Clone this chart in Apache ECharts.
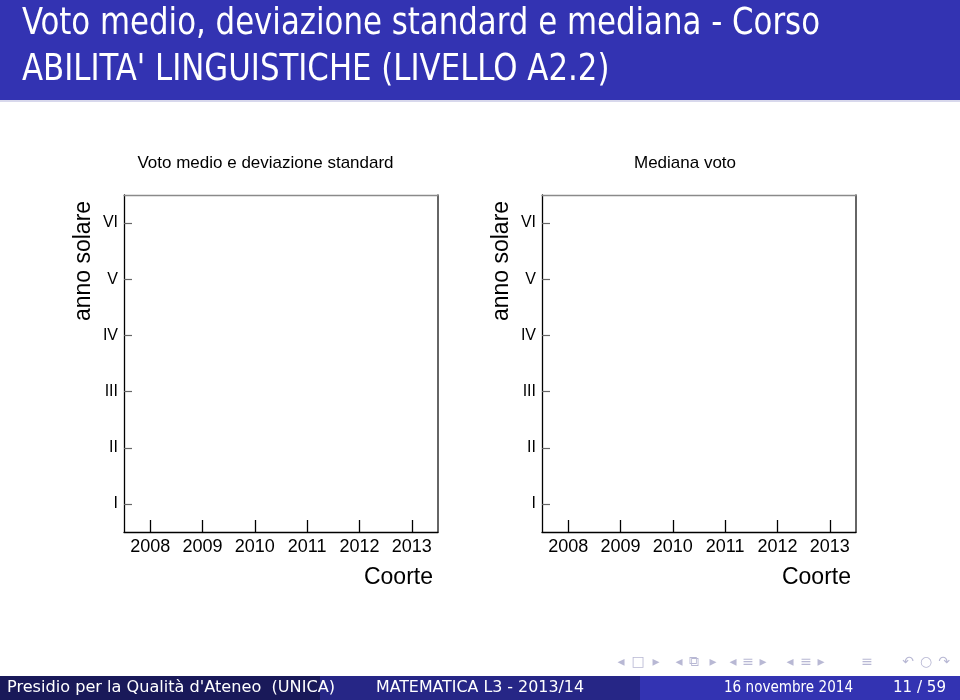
<!DOCTYPE html>
<html><head><meta charset="utf-8">
<script src="https://cdn.jsdelivr.net/npm/echarts@6/dist/echarts.min.js"></script>
<style>html,body{margin:0;padding:0;background:#fff}#c{width:960px;height:700px}</style>
</head><body><div id="c"></div>
<script>
// ---- data (the reference panels contain no plotted marks) ----
const cohorts = ['2008', '2009', '2010', '2011', '2012', '2013'];
const solarYears = ['I', 'II', 'III', 'IV', 'V', 'VI'];
const meanVotes = [];
const stdDevVotes = [];
const medianVotes = [];
const panelTitles = ['Voto medio e deviazione standard', 'Mediana voto'];
const xAxisName = 'Coorte';
const yAxisName = 'anno solare';
const slideTitle = ['Voto medio, deviazione standard e mediana - Corso', "ABILITA' LINGUISTICHE (LIVELLO A2.2)"];
const footerTexts = ["Presidio per la Qualità d'Ateneo  (UNICA)", 'MATEMATICA L3 - 2013/14', '16 novembre 2014', '11 / 59'];

const SANS = '"Liberation Sans", Arial, sans-serif';
const SLIDE = '"DejaVu Sans Condensed", "DejaVu Sans", sans-serif';
const mctx = document.createElement('canvas').getContext('2d');
function measure(t, size, fam) { mctx.font = size + 'px ' + fam; return mctx.measureText(t).width; }

const titleSize = 38;
const titleScale = 798 / measure(slideTitle[0], titleSize, SLIDE);
const footSize = 15;

const grids = [
  { left: 124, top: 195, width: 314, height: 337 },
  { left: 542, top: 195, width: 314, height: 337 }
];

const xAxes = [], yAxes = [], series = [], graphics = [];

// slide decoration
graphics.push({ type: 'rect', shape: { x: 0, y: 0, width: 960, height: 100 }, style: { fill: '#3333B2' }, z: 1 });
graphics.push({ type: 'rect', shape: { x: 0, y: 100, width: 960, height: 2 }, style: { fill: '#d8d8ec' }, z: 1 });
slideTitle.forEach((t, i) => {
  graphics.push({ type: 'text', x: 22, y: [24, 70][i], scaleX: titleScale, z: 2,
    style: { text: t, fill: '#fff', font: titleSize + 'px ' + SLIDE, textAlign: 'left', textVerticalAlign: 'middle' } });
});
const footBars = [[0, 320, '#191959'], [320, 320, '#262686'], [640, 320, '#3333B2']];
footBars.forEach(b => graphics.push({ type: 'rect', shape: { x: b[0], y: 676, width: b[1], height: 24 }, style: { fill: b[2] }, z: 1 }));
const footSpec = [[7, 328], [376, 208], [724, 129], [893, 53]];
footerTexts.forEach((t, i) => {
  const sc = footSpec[i][1] / measure(t, footSize, SLIDE);
  graphics.push({ type: 'text', x: footSpec[i][0], y: 688, scaleX: sc, z: 2,
    style: { text: t, fill: '#fff', font: footSize + 'px ' + SLIDE, textAlign: 'left', textVerticalAlign: 'middle' } });
});
const navSyms = [['◂', 621], ['□', 638], ['▸', 656], ['◂', 679], ['⧉', 694], ['▸', 713], ['◂', 733], ['≡', 748], ['▸', 763], ['◂', 790], ['≡', 806], ['▸', 821], ['≡', 867], ['↶', 908], ['○', 926], ['↷', 944]];
navSyms.forEach(s => graphics.push({ type: 'text', x: s[1], y: 662, z: 2,
  style: { text: s[0], fill: '#b8b8d4', font: '14px "DejaVu Sans", sans-serif', textAlign: 'center', textVerticalAlign: 'middle' } }));

grids.forEach((g, i) => {
  xAxes.push({
    type: 'category', gridIndex: i, data: cohorts, boundaryGap: true,
    axisLine: { show: true, lineStyle: { color: '#000', width: 1.3 } },
    axisTick: { show: true, alignWithLabel: true, inside: true, length: 12, lineStyle: { color: '#000', width: 1.3 } },
    axisLabel: { show: true, fontSize: 18, color: '#000', margin: 6, fontFamily: SANS },
    splitLine: { show: false }
  });
  xAxes.push({
    type: 'category', gridIndex: i, data: cohorts, position: 'top',
    axisLine: { show: true, lineStyle: { color: '#8a8a8a', width: 1.3 } },
    axisTick: { show: false }, axisLabel: { show: false }, splitLine: { show: false }
  });
  yAxes.push({
    type: 'category', gridIndex: i, data: solarYears, boundaryGap: true,
    axisLine: { show: true, lineStyle: { color: '#000', width: 1.3 } },
    axisTick: { show: true, alignWithLabel: true, inside: true, length: 8, lineStyle: { color: '#666', width: 1.2 } },
    axisLabel: { show: true, fontSize: 16, color: '#000', margin: 6, fontFamily: SANS },
    splitLine: { show: false }
  });
  yAxes.push({
    type: 'category', gridIndex: i, data: solarYears, position: 'right',
    axisLine: { show: true, lineStyle: { color: '#333', width: 1.5 } },
    axisTick: { show: false }, axisLabel: { show: false }, splitLine: { show: false }
  });
  const dataSets = i === 0 ? [meanVotes, stdDevVotes] : [medianVotes];
  dataSets.forEach(d => series.push({ type: 'scatter', xAxisIndex: i * 2, yAxisIndex: i * 2, data: d, silent: true }));

  const off = g.left - 124;
  graphics.push({ type: 'text', x: [265.5, 685][i], y: 163, z: 2,
    style: { text: panelTitles[i], fill: '#000', font: '17px ' + SANS, textAlign: 'center', textVerticalAlign: 'middle' } });
  graphics.push({ type: 'text', x: 433 + off, y: 578, z: 2,
    style: { text: xAxisName, fill: '#000', font: '23px ' + SANS, textAlign: 'right', textVerticalAlign: 'middle' } });
  graphics.push({ type: 'text', x: 84 + off, y: 261, rotation: Math.PI / 2, z: 2,
    style: { text: yAxisName, fill: '#000', font: '23px ' + SANS, textAlign: 'center', textVerticalAlign: 'middle' } });
});

const chart = echarts.init(document.getElementById('c'), null, { renderer: 'canvas' });
chart.setOption({
  backgroundColor: '#fff',
  animation: false,
  grid: grids,
  xAxis: xAxes,
  yAxis: yAxes,
  series: series,
  graphic: graphics
});
</script>
</body></html>
